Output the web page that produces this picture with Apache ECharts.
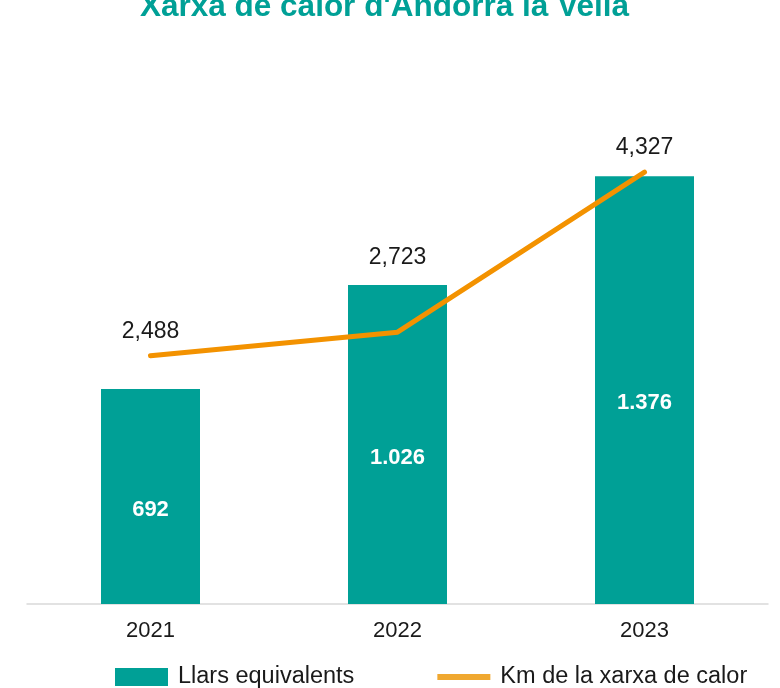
<!DOCTYPE html>
<html>
<head>
<meta charset="utf-8">
<script src="https://cdn.jsdelivr.net/npm/echarts@6/dist/echarts.min.js"></script>
<style>
  html, body { margin: 0; padding: 0; background: #fff; }
  #chart { width: 780px; height: 688px; }
</style>
</head>
<body>
<div id="chart"></div>
<script>
const years = ["2021", "2022", "2023"];
const llarsEquivalents = [692, 1026, 1376];
const kmXarxa = [2488, 2723, 4327];

const TEAL = "#00a096";
const ORANGE = "#f39200";
const FONT = "'Liberation Sans', Arial, sans-serif";

const dotThousands = v => String(v).replace(/\B(?=(\d{3})+(?!\d))/g, ".");
const commaThousands = v => String(v).replace(/\B(?=(\d{3})+(?!\d))/g, ",");

const chart = echarts.init(document.getElementById("chart"), null, { renderer: "canvas" });

chart.setOption({
  animation: false,
  textStyle: { fontFamily: FONT },
  title: {
    text: "Xarxa de calor d'Andorra la Vella",
    left: 140,
    top: -9,
    padding: 0,
    textStyle: { color: TEAL, fontSize: 31.5, fontWeight: "bold", fontFamily: FONT }
  },
  grid: { left: 27, right: 12, top: 60, bottom: 84, containLabel: false },
  legend: {
    left: 115,
    top: 665,
    padding: 0,
    itemGap: 83,
    itemWidth: 53,
    itemHeight: 18,
    textStyle: { fontSize: 23.5, color: "#1a1a1a", fontFamily: FONT, padding: [0, 0, 0, 5] },
    data: [
      { name: "Llars equivalents", icon: "rect", itemStyle: { color: TEAL } },
      { name: "Km de la xarxa de calor", icon: "path://M0,6 L53,6 L53,12 L0,12 Z", itemStyle: { color: "#f0a830" } }
    ]
  },
  xAxis: {
    type: "category",
    data: years,
    axisLine: { lineStyle: { color: "#d9d9d9", width: 1.5 } },
    axisTick: { show: false },
    axisLabel: { fontSize: 22, color: "#1a1a1a", margin: 16, fontFamily: FONT }
  },
  yAxis: [
    { type: "value", min: 0, max: 1750, show: false, splitLine: { show: false } },
    { type: "value", min: 0, max: 5450, show: false, splitLine: { show: false } }
  ],
  series: [
    {
      name: "Llars equivalents",
      type: "bar",
      yAxisIndex: 0,
      barWidth: 99,
      data: llarsEquivalents,
      itemStyle: { color: TEAL },
      label: {
        show: true,
        position: "inside",
        offset: [0, 13],
        color: "#fff",
        fontSize: 22,
        fontWeight: "bold",
        fontFamily: FONT,
        formatter: p => dotThousands(p.value)
      }
    },
    {
      name: "Km de la xarxa de calor",
      type: "line",
      yAxisIndex: 1,
      data: kmXarxa,
      symbol: "circle",
      symbolSize: 1,
      itemStyle: { color: ORANGE },
      lineStyle: { color: ORANGE, width: 5, cap: "round", join: "round" },
      label: {
        show: true,
        position: "top",
        distance: 12,
        color: "#1a1a1a",
        fontSize: 23,
        fontFamily: FONT,
        formatter: p => commaThousands(p.value)
      },
      z: 3
    }
  ]
});

// place each line label above whichever mark (bar top or line point) is higher
const lineData = kmXarxa.map((v, i) => {
  const linePt = chart.convertToPixel({ xAxisIndex: 0, yAxisIndex: 1 }, [i, v]);
  const barPt = chart.convertToPixel({ xAxisIndex: 0, yAxisIndex: 0 }, [i, llarsEquivalents[i]]);
  const lift = barPt[1] < linePt[1] ? barPt[1] - linePt[1] - 3 : 0;
  return { value: v, label: { offset: [0, lift] } };
});
chart.setOption({ series: [{}, { data: lineData }] });
</script>
</body>
</html>
